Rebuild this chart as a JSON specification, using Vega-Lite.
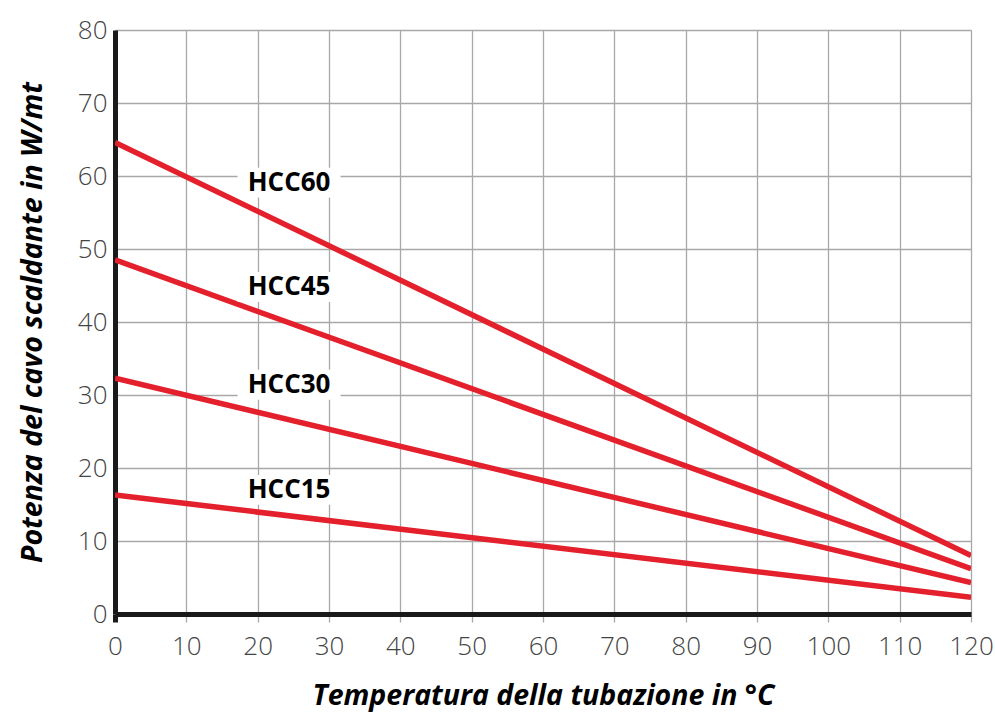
{
  "$schema": "https://vega.github.io/schema/vega-lite/v6.json",
  "width": 856,
  "height": 584,
  "autosize": {"type": "none"},
  "padding": {"left": 115, "top": 30, "right": 24, "bottom": 99},
  "background": "white",
  "config": {
    "view": {"stroke": null},
    "font": "Open Sans"
  },
  "datasets": {
    "lines": [
      {"cavo": "HCC60", "temp": 0, "potenza": 64.6},
      {"cavo": "HCC60", "temp": 120, "potenza": 8.0},
      {"cavo": "HCC45", "temp": 0, "potenza": 48.5},
      {"cavo": "HCC45", "temp": 120, "potenza": 6.2},
      {"cavo": "HCC30", "temp": 0, "potenza": 32.3},
      {"cavo": "HCC30", "temp": 120, "potenza": 4.3},
      {"cavo": "HCC15", "temp": 0, "potenza": 16.3},
      {"cavo": "HCC15", "temp": 120, "potenza": 2.3}
    ],
    "labels": [
      {"cavo": "HCC60", "temp": 24.4, "potenza": 59.1},
      {"cavo": "HCC45", "temp": 24.4, "potenza": 44.8},
      {"cavo": "HCC30", "temp": 24.4, "potenza": 31.4},
      {"cavo": "HCC15", "temp": 24.4, "potenza": 17.0}
    ]
  },
  "layer": [
    {
      "data": {"name": "lines"},
      "mark": {"type": "line", "color": "#e3202b", "strokeWidth": 5.5, "clip": true},
      "encoding": {
        "x": {
          "field": "temp", "type": "quantitative",
          "scale": {"domain": [0, 120], "nice": false, "zero": false},
          "axis": {
            "title": "Temperatura della tubazione in °C",
            "values": [0, 10, 20, 30, 40, 50, 60, 70, 80, 90, 100, 110, 120],
            "grid": true, "gridColor": "#a8a8a8", "gridWidth": 1.3, "gridOpacity": 1,
            "domain": true, "domainColor": "#1a1a1a", "domainWidth": 5,
            "ticks": true, "tickSize": 8,
            "tickColor": {"condition": {"test": "datum.value == 0", "value": "#1a1a1a"}, "value": "#a8a8a8"},
            "tickWidth": {"condition": {"test": "datum.value == 0", "value": 5}, "value": 1.3},
            "labelFont": "Open Sans", "labelFontSize": 26, "labelFontWeight": 300, "labelColor": "#444444",
            "labelPadding": 11, "labelFlush": false, "labelOverlap": false,
            "titleFont": "Open Sans", "titleFontSize": 28.5, "titleFontWeight": "bold",
            "titleFontStyle": "italic", "titleColor": "#000000", "titlePadding": 22
          }
        },
        "y": {
          "field": "potenza", "type": "quantitative",
          "scale": {"domain": [0, 80], "nice": false},
          "axis": {
            "title": "Potenza del cavo scaldante in W/mt",
            "values": [0, 10, 20, 30, 40, 50, 60, 70, 80],
            "grid": true, "gridColor": "#a8a8a8", "gridWidth": 1.3, "gridOpacity": 1,
            "domain": true, "domainColor": "#1a1a1a", "domainWidth": 5,
            "ticks": false,
            "labelFont": "Open Sans", "labelFontSize": 26, "labelFontWeight": 300, "labelColor": "#444444",
            "labelPadding": 8, "labelFlush": false, "labelOverlap": false,
            "titleFont": "Open Sans", "titleFontSize": 28.5, "titleFontWeight": "bold",
            "titleFontStyle": "italic", "titleColor": "#000000", "titlePadding": 30
          }
        },
        "detail": {"field": "cavo", "type": "nominal"}
      }
    },
    {
      "data": {"name": "labels"},
      "mark": {
        "type": "point", "filled": true, "fill": "white", "opacity": 1, "strokeWidth": 0,
        "shape": "M-1,-0.29L1,-0.29L1,0.29L-1,0.29Z", "size": 10600
      },
      "encoding": {
        "x": {"field": "temp", "type": "quantitative"},
        "y": {"field": "potenza", "type": "quantitative"}
      }
    },
    {
      "data": {"name": "labels"},
      "mark": {"type": "text", "font": "Open Sans", "fontSize": 26, "fontWeight": "bold", "color": "#000000", "align": "center", "baseline": "middle"},
      "encoding": {
        "x": {"field": "temp", "type": "quantitative"},
        "y": {"field": "potenza", "type": "quantitative"},
        "text": {"field": "cavo", "type": "nominal"}
      }
    }
  ]
}
